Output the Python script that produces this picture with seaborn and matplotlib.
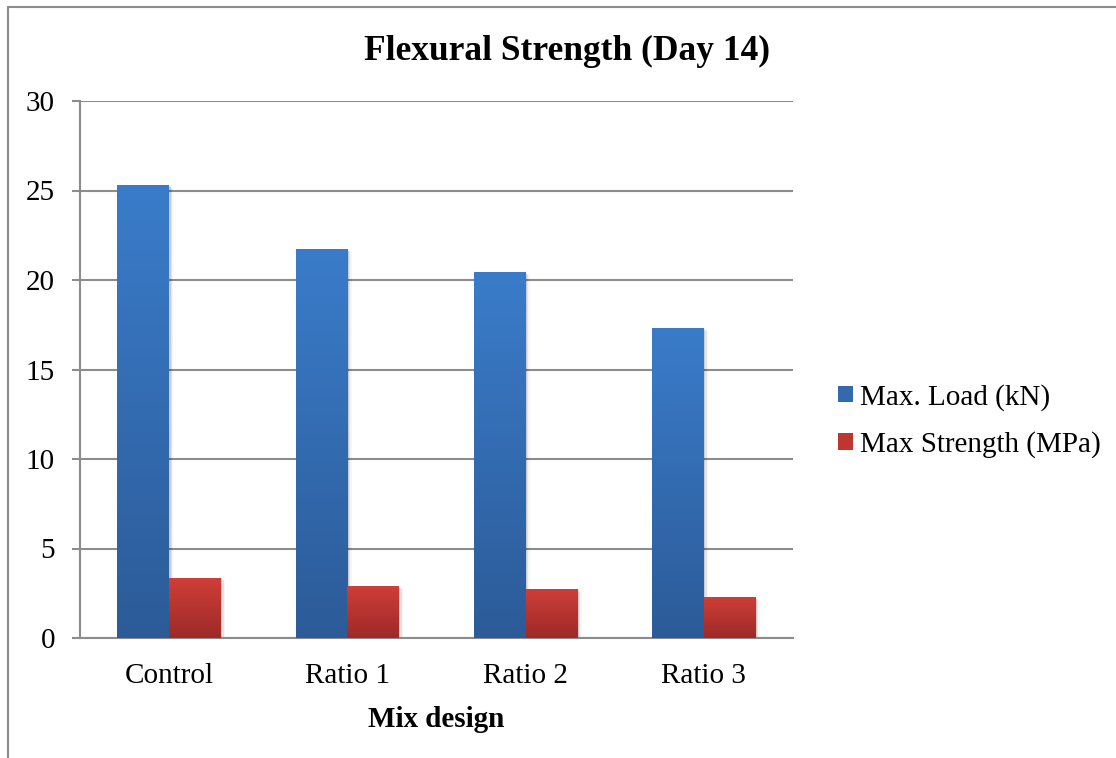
import numpy as np
import pandas as pd
import matplotlib
matplotlib.use("Agg")
import matplotlib.pyplot as plt
from matplotlib.colors import LinearSegmentedColormap
from matplotlib.patches import Patch
from matplotlib.lines import Line2D
import seaborn as sns

categories = ["Control", "Ratio 1", "Ratio 2", "Ratio 3"]
series_names = ["Max. Load (kN)", "Max Strength (MPa)"]
max_load = [25.3, 21.75, 20.45, 17.33]
max_strength = [3.35, 2.9, 2.74, 2.3]
y_ticks = [0, 5, 10, 15, 20, 25, 30]

df = pd.DataFrame({
    "Mix design": categories * 2,
    "value": max_load + max_strength,
    "series": [series_names[0]] * 4 + [series_names[1]] * 4,
})

sns.set_style("white")
plt.rcParams["font.family"] = ["Liberation Serif", "DejaVu Serif"]
plt.rcParams["text.color"] = "black"
plt.rcParams["axes.labelcolor"] = "black"
plt.rcParams["xtick.color"] = "black"
plt.rcParams["ytick.color"] = "black"

fig = plt.figure(figsize=(11.16, 7.58), dpi=100)
ax = fig.add_axes([80 / 1116, 1 - 638 / 758, (793 - 80) / 1116, (638 - 101) / 758])

blue_mid = "#3469b0"
red_mid = "#bf3532"
sns.barplot(data=df, x="Mix design", y="value", hue="series",
            palette=[blue_mid, red_mid], width=0.58, ax=ax,
            legend=False, saturation=1, zorder=3)

grad = {
    blue_mid: LinearSegmentedColormap.from_list("b", ["#2c5b98", "#3a7cca"]),
    red_mid: LinearSegmentedColormap.from_list("r", ["#9c2a28", "#d03e38"]),
}
ax.set_ylim(0, 30)
ax.set_xlim(-0.5, 3.5)
gvals = np.linspace(0, 1, 256).reshape(-1, 1)
for cont, col in zip(ax.containers, [blue_mid, red_mid]):
    for p in cont.patches:
        x0, y0 = p.get_x(), p.get_y()
        w, h = p.get_width(), p.get_height()
        # soft shadow
        for k, a in enumerate([0.10, 0.07, 0.04]):
            ax.add_patch(plt.Rectangle((x0 + 0.008 * (k + 1), y0 - 0.06 * (k + 1)), w, h,
                                       color="black", alpha=a, lw=0, zorder=2))
        p.set_facecolor("none")
        p.set_edgecolor("none")
        im = ax.imshow(gvals, cmap=grad[col], origin="lower", aspect="auto",
                       extent=[x0, x0 + w, y0, y0 + h], zorder=4)
        im.set_clip_path(p)
ax.set_xlim(-0.5, 3.5)
ax.set_ylim(0, 30)

ax.set_yticks(y_ticks)
ax.set_yticklabels([str(t) for t in y_ticks])
ax.yaxis.grid(True, color="#8c8c8c", lw=1.5, zorder=0)
ax.set_axisbelow(True)
for s in ["top", "right"]:
    ax.spines[s].set_visible(False)
for s in ["left", "bottom"]:
    ax.spines[s].set_color("#8c8c8c")
    ax.spines[s].set_linewidth(1.5)
ax.tick_params(axis="y", length=6, width=1.5, color="#8c8c8c", pad=12,
               labelsize=21, left=True, labelcolor="black")
ax.tick_params(axis="x", length=0, pad=18, labelsize=21, labelcolor="black")

ax.set_ylabel("")
ax.set_xlabel("Mix design", fontsize=21, fontweight="bold", labelpad=12)

fig.suptitle("Flexural Strength (Day 14)", fontsize=25.5, fontweight="bold",
             x=567 / 1116, y=1 - 51 / 758, va="center")

handles = [Patch(facecolor="#3469b0", edgecolor="none"),
           Patch(facecolor="#bf3532", edgecolor="none")]
fig.legend(handles, series_names, loc="center left",
           bbox_to_anchor=(812 / 1116, 1 - 421 / 758), frameon=False,
           fontsize=21, handlelength=0.5, handleheight=0.5,
           handletextpad=0.25, labelspacing=0.7)

fig.add_artist(Line2D([8 / 1116, 8 / 1116], [0, 1 - 7 / 758], color="#8c8c8c", lw=1.5))
fig.add_artist(Line2D([8 / 1116, 1], [1 - 7 / 758, 1 - 7 / 758], color="#8c8c8c", lw=1.5))

fig.savefig("out.png", dpi=100)
